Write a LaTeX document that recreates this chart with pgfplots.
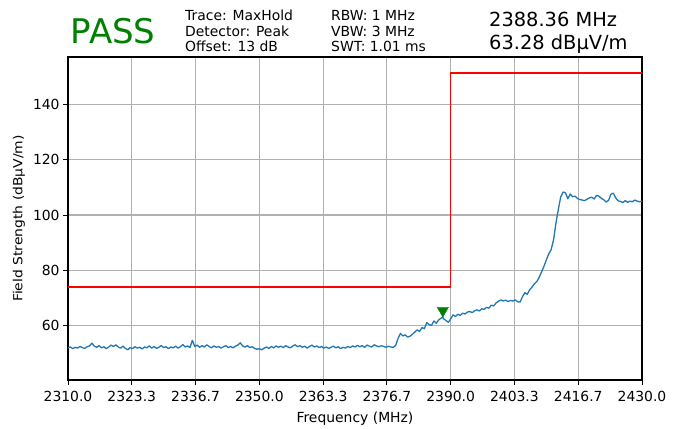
\documentclass[border=0pt]{standalone}
\usepackage{pgfplots}
\pgfplotsset{compat=1.18}
\usepackage{pgfplotstable}
\usepackage{fontspec}
\setmainfont{DejaVu Sans}
\definecolor{tracec}{HTML}{1F77B4}
\definecolor{gridc}{HTML}{B0B0B0}
\definecolor{passc}{HTML}{008000}
\definecolor{limc}{HTML}{FF0000}

\pgfplotstableread{
f v
2310.0 52.1
2310.5 52.4
2311.0 51.8
2311.5 52.3
2312.0 52.0
2312.5 52.6
2313.0 52.2
2313.5 51.9
2314.0 52.5
2314.5 52.8
2315.0 53.8
2315.5 52.7
2316.0 52.3
2316.5 52.9
2317.0 52.1
2317.5 52.5
2318.0 51.8
2318.5 52.4
2319.0 53.1
2319.5 52.6
2320.0 53.2
2320.5 52.4
2321.0 52.0
2321.5 52.7
2322.0 51.9
2322.5 51.4
2323.0 52.2
2323.5 51.8
2324.0 52.5
2324.5 52.0
2325.0 52.3
2325.5 51.7
2326.0 52.4
2326.5 52.1
2327.0 52.8
2327.5 52.0
2328.0 52.6
2328.5 51.9
2329.0 52.3
2329.5 52.9
2330.0 52.2
2330.5 52.5
2331.0 51.8
2331.5 52.4
2332.0 52.1
2332.5 52.7
2333.0 52.0
2333.5 52.5
2334.0 53.3
2334.5 52.4
2335.0 52.8
2335.5 52.2
2336.0 54.8
2336.5 52.6
2337.0 53.1
2337.5 52.3
2338.0 52.9
2338.5 52.4
2339.0 53.2
2339.5 52.6
2340.0 52.1
2340.5 52.8
2341.0 52.3
2341.5 52.6
2342.0 52.0
2342.5 52.5
2343.0 52.9
2343.5 52.2
2344.0 52.6
2344.5 52.1
2345.0 52.7
2345.5 53.1
2346.0 53.9
2346.5 52.8
2347.0 52.4
2347.5 52.9
2348.0 52.2
2348.5 52.5
2349.0 51.9
2349.5 51.6
2350.0 51.8
2350.5 51.4
2351.0 52.0
2351.5 52.4
2352.0 51.9
2352.5 52.6
2353.0 52.1
2353.5 52.8
2354.0 52.3
2354.5 52.7
2355.0 52.2
2355.5 52.9
2356.0 52.4
2356.5 52.1
2357.0 52.8
2357.5 53.2
2358.0 52.5
2358.5 52.9
2359.0 52.3
2359.5 52.7
2360.0 52.0
2360.5 52.6
2361.0 53.1
2361.5 52.4
2362.0 52.8
2362.5 52.2
2363.0 52.6
2363.5 52.0
2364.0 52.4
2364.5 51.9
2365.0 52.3
2365.5 52.7
2366.0 52.1
2366.5 52.5
2367.0 51.8
2367.5 52.3
2368.0 52.0
2368.5 52.6
2369.0 52.2
2369.5 52.8
2370.0 52.4
2370.5 53.0
2371.0 52.5
2371.5 52.9
2372.0 52.3
2372.5 53.1
2373.0 52.7
2373.5 52.4
2374.0 53.2
2374.5 52.8
2375.0 52.5
2375.5 52.9
2376.0 52.6
2376.5 52.3
2377.0 52.7
2377.5 52.4
2378.0 52.3
2378.5 53.0
2379.0 55.5
2379.5 57.3
2380.0 56.4
2380.5 56.8
2381.0 56.0
2381.5 56.3
2382.0 57.0
2382.5 57.8
2383.0 58.6
2383.5 58.0
2384.0 59.4
2384.5 59.0
2385.0 61.2
2385.5 60.5
2386.0 60.2
2386.5 61.8
2387.0 61.0
2387.5 62.2
2388.0 62.8
2388.36 63.28
2388.5 62.6
2389.0 62.0
2389.5 61.3
2390.0 62.5
2390.5 64.0
2391.0 63.4
2391.5 64.2
2392.0 63.8
2392.5 64.6
2393.0 64.3
2393.5 65.0
2394.0 65.2
2394.5 64.8
2395.0 65.5
2395.5 65.8
2396.0 65.4
2396.5 66.2
2397.0 66.0
2397.5 66.7
2398.0 66.4
2398.5 67.5
2399.0 67.2
2399.5 68.3
2400.0 68.9
2400.5 69.4
2401.0 69.0
2401.5 69.3
2402.0 68.8
2402.5 69.2
2403.0 69.0
2403.5 69.4
2404.0 68.7
2404.5 68.6
2405.0 70.5
2405.5 72.0
2406.0 71.4
2406.5 73.0
2407.0 74.0
2407.5 75.2
2408.0 76.0
2408.5 77.5
2409.0 79.5
2409.5 81.5
2410.0 83.8
2410.5 86.0
2411.0 87.5
2411.5 91.0
2412.0 97.0
2412.5 102.0
2413.0 106.5
2413.5 108.3
2414.0 108.0
2414.5 105.9
2415.0 107.6
2415.5 106.6
2416.0 106.8
2416.5 106.0
2417.0 105.6
2417.5 105.4
2418.0 105.2
2418.5 105.7
2419.0 106.2
2419.5 106.4
2420.0 105.8
2420.5 107.1
2421.0 106.8
2421.5 106.0
2422.0 105.5
2422.5 104.7
2423.0 105.3
2423.5 107.5
2424.0 107.9
2424.5 106.2
2425.0 105.1
2425.5 104.9
2426.0 104.5
2426.5 105.2
2427.0 104.6
2427.5 105.0
2428.0 104.8
2428.5 105.4
2429.0 105.0
2429.5 104.8
2430.0 105.0
}\trace

\pgfplotstableread{
f v
2310 74
2390 74
2390 151.2
2430 151.2
}\limitline

\begin{document}
\begin{tikzpicture}[x=1bp,y=1bp]
\useasboundingbox (0,0) rectangle (685,428);
\begin{axis}[
  at={(68bp,48bp)}, anchor=south west,
  scale only axis, width=574bp, height=323bp,
  xmin=2310, xmax=2430, ymin=40.5, ymax=157,
  font=\fontsize{13.9bp}{16bp}\selectfont,
  xtick={2310,2323.333,2336.667,2350,2363.333,2376.667,2390,2403.333,2416.667,2430},
  xticklabels={2310.0,2323.3,2336.7,2350.0,2363.3,2376.7,2390.0,2403.3,2416.7,2430.0},
  ytick={60,80,100,120,140},
  yticklabels={60,80,100,120,140},
  tick pos=left,
  tick align=outside, major tick length=4.9bp,
  tick style={black, line width=1bp},
  axis line style={black, line width=1.1bp},
  grid=major, major grid style={gridc, line width=1.1bp},
  xticklabel style={yshift=-3bp},
  xlabel={Frequency (MHz)},
  ylabel={\scalebox{1}[0.9]{Field Strength (dBµV/m)}},
  xlabel style={at={(axis description cs:0.5,0)}, anchor=base, yshift=-42.7bp},
  ylabel style={at={(axis description cs:-0.0854,0.5)}, anchor=center},
  clip=true,
]
\addplot[limc, line width=1.4bp] table[x=f,y=v]{\limitline};
\addplot[tracec, line width=1.3bp, line join=round] table[x=f,y=v]{\trace};
\addplot[only marks, mark=triangle*, mark size=6.5bp, fill=passc, draw=passc,
  mark options={yshift=6.3bp, rotate=180}] coordinates {(2388.36,63.28)};
\end{axis}
\node[anchor=base west, text=passc, font=\fontsize{34bp}{36bp}\selectfont, inner sep=0] at (70.5,385) {PASS};
\begin{scope}[every node/.style={anchor=base west, inner sep=0, font=\fontsize{13.9bp}{16bp}\selectfont}]
\node at (185,407) {Trace: MaxHold};
\node at (185,391.5) {Detector: Peak};
\node at (185,376.3) {Offset: 13 dB};
\node at (331,407) {RBW: 1 MHz};
\node at (331,391.5) {VBW: 3 MHz};
\node at (331,376.3) {SWT: 1.01 ms};
\end{scope}
\begin{scope}[every node/.style={anchor=base west, inner sep=0, font=\fontsize{19.4bp}{22bp}\selectfont}]
\node at (489,401.3) {2388.36 MHz};
\node at (489,378.7) {63.28 dBµV/m};
\end{scope}
\end{tikzpicture}
\end{document}
